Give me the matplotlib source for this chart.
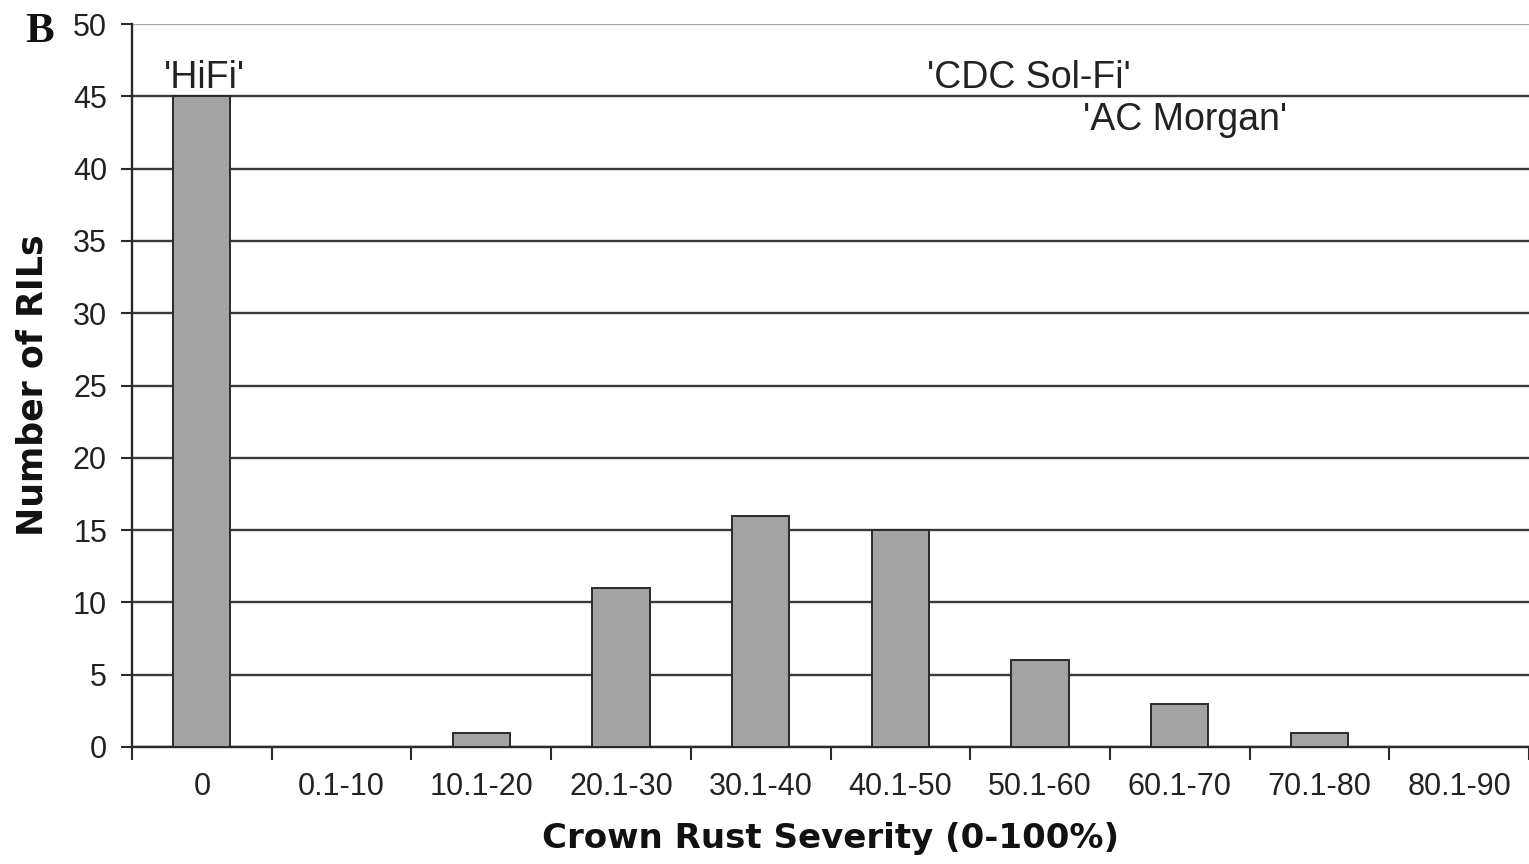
import numpy as np
import matplotlib
matplotlib.use("Agg")
import matplotlib.pyplot as plt

# Distribution of crown rust severity among RILs
categories = ['0', '0.1-10', '10.1-20', '20.1-30', '30.1-40',
              '40.1-50', '50.1-60', '60.1-70', '70.1-80', '80.1-90']
counts = [45, 0, 1, 11, 16, 15, 6, 3, 1, 0]
yticks = [0, 5, 10, 15, 20, 25, 30, 35, 40, 45, 50]

# parent cultivars: (name, x position, y position)
parents = [("'HiFi'", 0.02, 45.6, 'center'),
           ("'CDC Sol-Fi'", 5.19, 45.6, 'left'),
           ("'AC Morgan'", 6.31, 42.7, 'left')]

W, H = 1529, 864
fig = plt.figure(figsize=(W / 100, H / 100), dpi=100)
ax = fig.add_axes([132 / W, 1 - 747 / H, 1 - 132 / W, (747 - 24) / H])

x = np.arange(len(categories))
ax.bar(x, counts, width=0.41, color='#a3a3a3', edgecolor='#2a2a2a',
       linewidth=1.4, zorder=3)

ax.set_xlim(-0.5, -0.5 + (W - 132) / 140.3)
ax.set_ylim(0, 50)

# horizontal grid, the top line drawn lighter
ax.set_yticks(yticks)
ax.yaxis.grid(True, color='#3a3a3a', linewidth=1.7)
ax.yaxis.get_gridlines()[-1].set_color('#a8a8a8')
ax.set_axisbelow(True)

for side in ['top', 'right']:
    ax.spines[side].set_visible(False)
for side in ['left', 'bottom']:
    ax.spines[side].set_color('#2a2a2a')
    ax.spines[side].set_linewidth(1.7)

tick_font = dict(family='Liberation Sans', size=22, color='#222222')
ax.set_xticks(x)
ax.set_xticklabels(categories, fontdict=tick_font)
ax.set_xticks(np.arange(len(categories) + 1) - 0.5, minor=True)
ax.tick_params(axis='x', which='major', length=0, pad=18)
ax.tick_params(axis='x', which='minor', length=9, width=1.5,
               color='#2a2a2a', direction='out')
ax.set_yticklabels([str(v) for v in yticks], fontdict=tick_font)
ax.tick_params(axis='y', length=8, width=1.5, color='#2a2a2a',
               direction='out', pad=10)

ax.set_ylabel('Number of RILs', family='DejaVu Sans', weight='bold',
              size=25, color='#111111')
ax.yaxis.set_label_coords(-0.059, 0.5)
ax.set_xlabel('Crown Rust Severity (0-100%)', family='DejaVu Sans',
              weight='bold', size=24.5, color='#111111')
ax.xaxis.set_label_coords(0.5, -0.104)

for name, px, py, ha in parents:
    ax.text(px, py, name, ha=ha, va='baseline', family='Liberation Sans',
            size=27, color='#222222')

fig.text(40 / W, 1 - 42 / H, 'B', ha='center', va='baseline',
         family='Liberation Serif', weight='bold', size=31, color='#111111')

fig.savefig('out.png', dpi=100, facecolor='white')
